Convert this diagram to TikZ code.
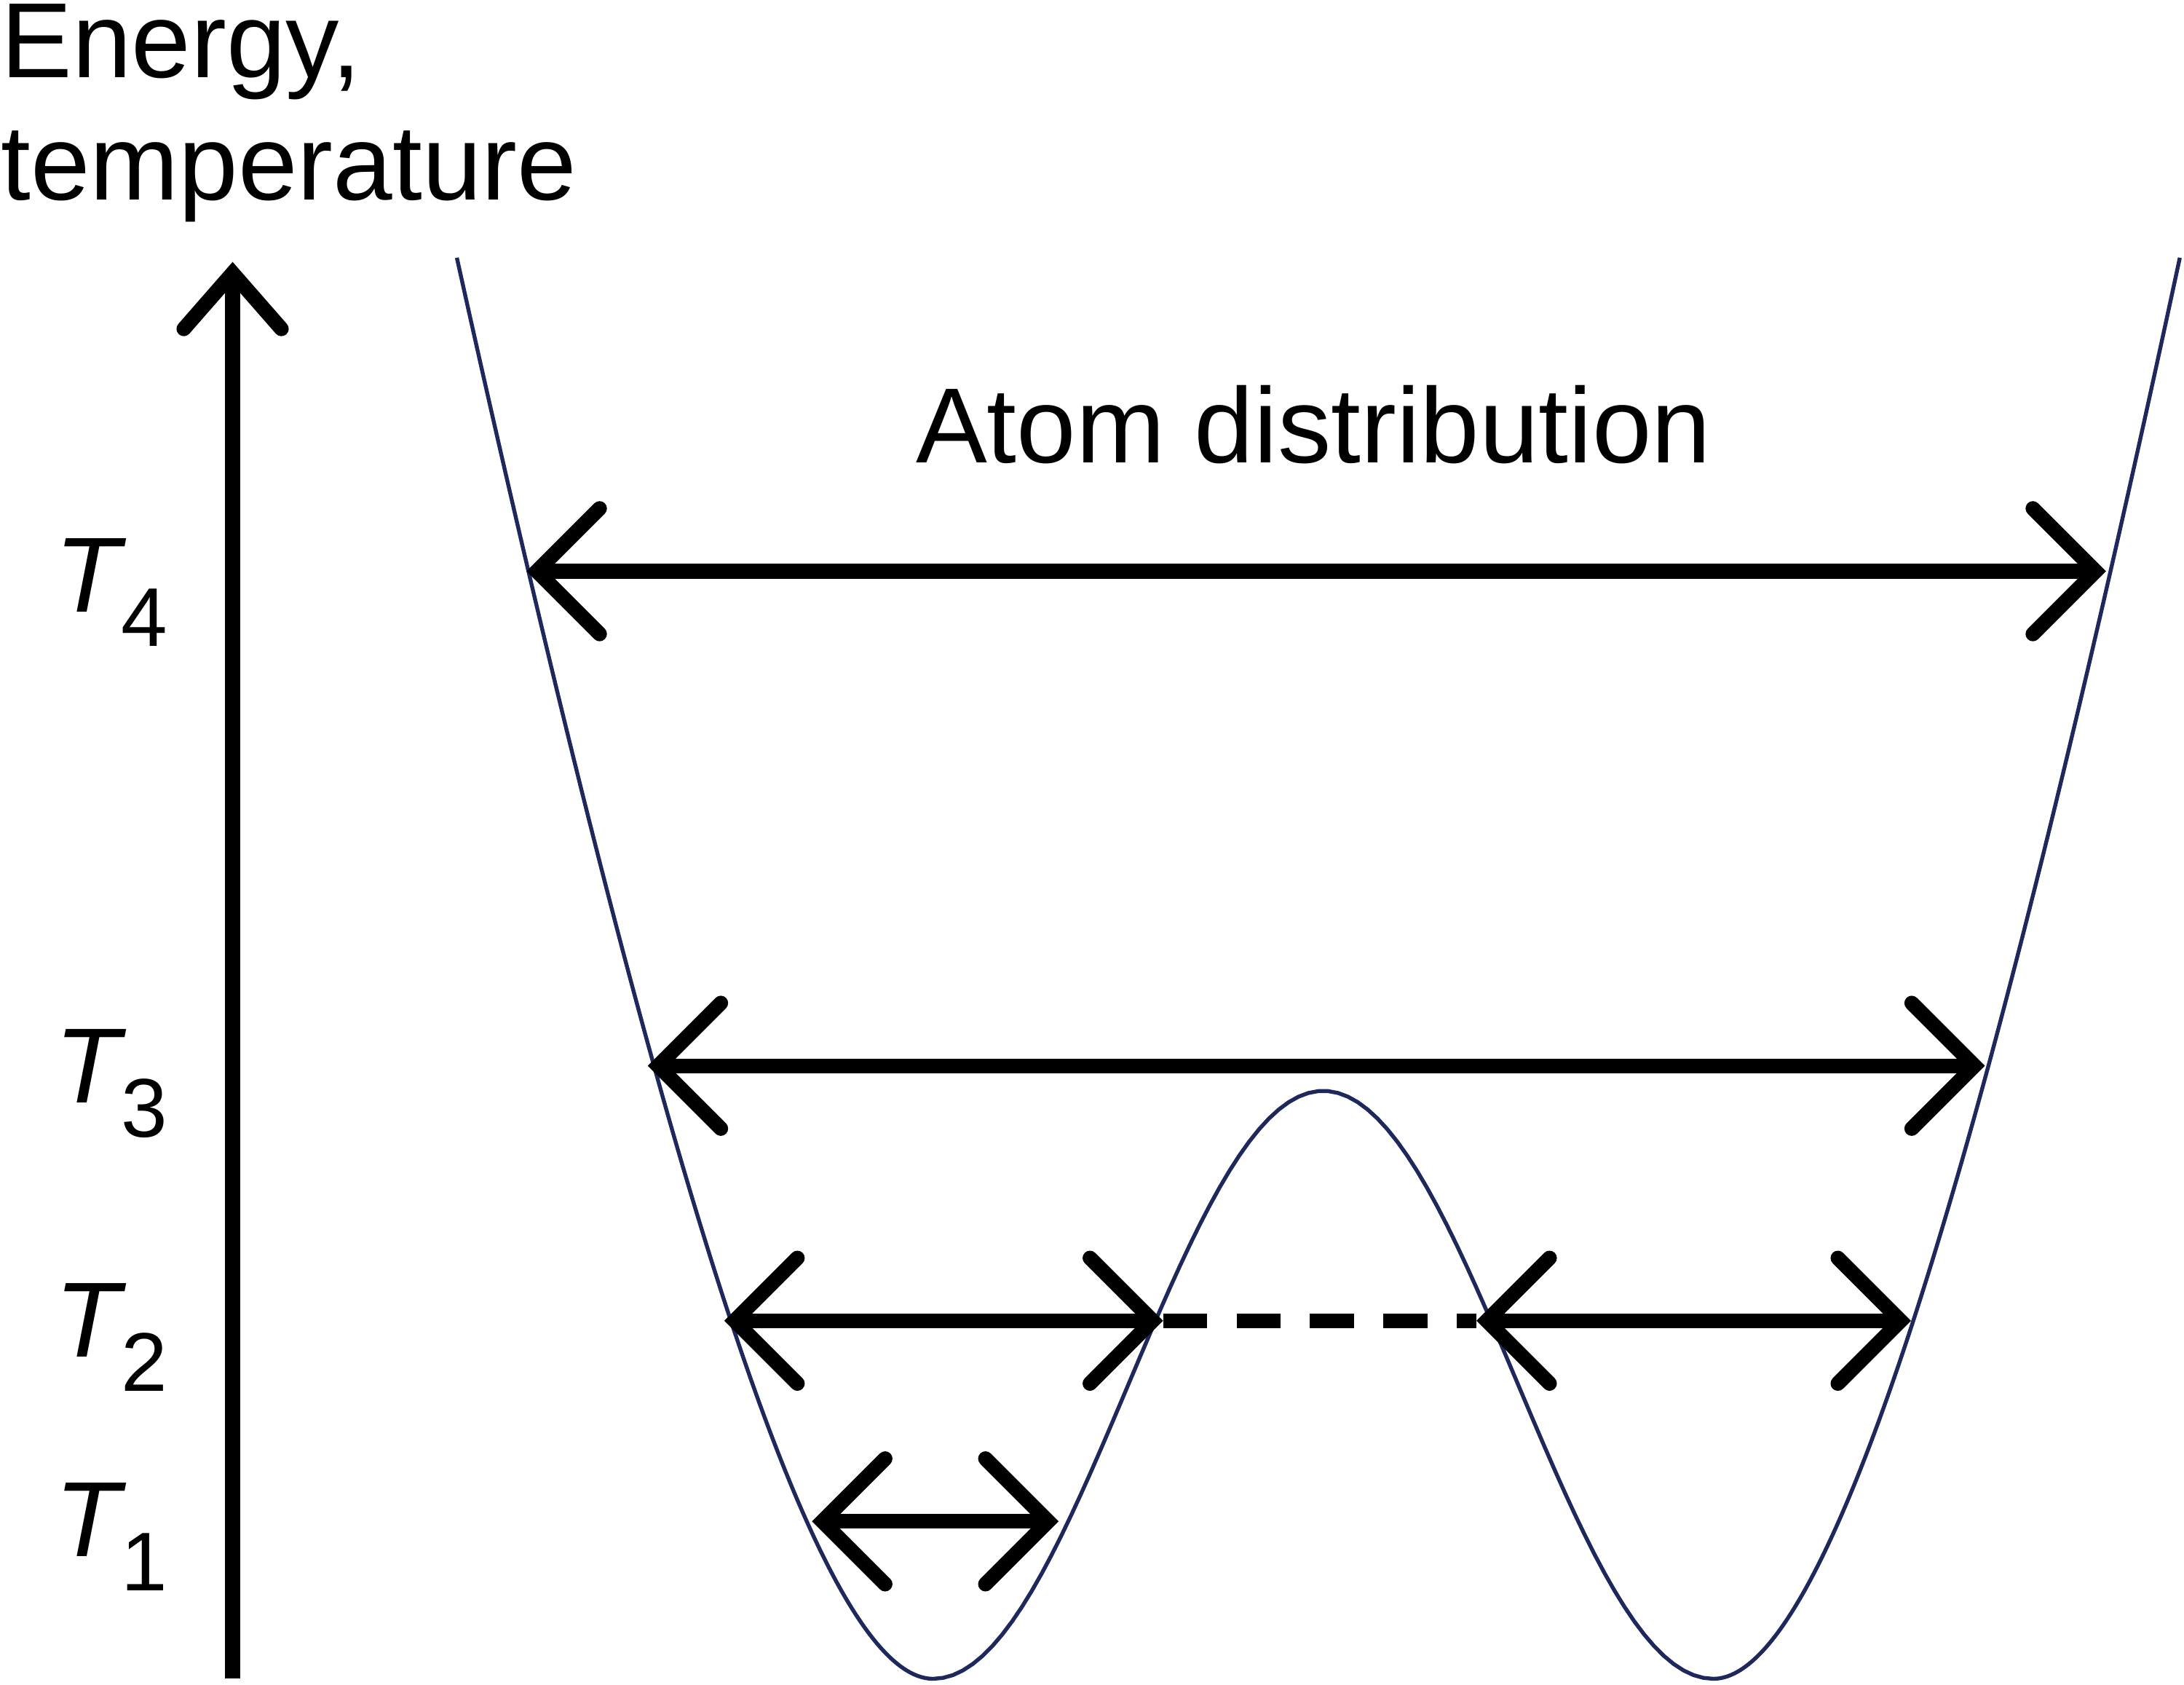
\documentclass[tikz,border=0pt]{standalone}
\usepackage{fontspec}
\setmainfont{Liberation Sans}
\usetikzlibrary{arrows.meta}
\definecolor{wellblue}{RGB}{30,40,90}
\newcommand{\tlevel}[1]{\textit{T}\kern-0.05em\raisebox{-0.32em}{\fontsize{17}{20}\selectfont #1}}
\begin{document}
\begin{tikzpicture}
[
    x=0.01cm, y=-0.01cm,
    span/.style={line width=3pt, {Straight Barb[length=4.5mm,width=9mm,line width=3pt,line cap=round]}-{Straight Barb[length=4.5mm,width=9mm,line width=3pt,line cap=round]}},
    lbl/.style={font=\fontsize{21.8}{25}\selectfont, inner sep=0pt},
]
\useasboundingbox (0,0) rectangle (1568,1209);
% potential curve
\draw [wellblue, line width=0.8pt]
  (328,185) .. controls (480,870) and (590,1205) .. (670,1205)
  -- plot [domain=670:1230, samples=80] (\x, {1205-211*(1-cos(deg(2*pi*(\x-670)/560)))})
  .. controls (1310,1205) and (1418,870) .. (1565,185);
% axis
\coordinate (ax0) at (167,1205);
\coordinate (ax1) at (167,188);
\draw [line width=3pt, -{Straight Barb[length=4mm,width=7mm,line width=3pt,line cap=round]}] (ax0) -- (ax1);
\node (axis) [lbl, anchor=north west, align=left] at (0,2) {Energy,\\temperature};
\node (atoms) [lbl] at (943,305) {Atom distribution};
\node (t4) [lbl] at (80,425) {\tlevel{4}};
\node (t3) [lbl] at (80,778) {\tlevel{3}};
\node (t2) [lbl] at (80,960) {\tlevel{2}};
\node (t1) [lbl] at (80,1103) {\tlevel{1}};
% widths
\coordinate (a4) at (378,410);  \coordinate (b4) at (1512,410);
\coordinate (a3) at (465,765);  \coordinate (b3) at (1425,765);
\coordinate (a2) at (520,948);  \coordinate (b2) at (835,948);
\coordinate (c2) at (1060,948); \coordinate (d2) at (1372,948);
\coordinate (a1) at (583,1092); \coordinate (b1) at (760,1092);
\draw [span] (a4) -- (b4);
\draw [span] (a3) -- (b3);
\draw [span] (a2) -- (b2);
\draw [span] (c2) -- (d2);
\draw [line width=3pt, dash pattern=on 9pt off 6pt] (b2) -- (c2);
\draw [span] (a1) -- (b1);
\end{tikzpicture}
\end{document}
